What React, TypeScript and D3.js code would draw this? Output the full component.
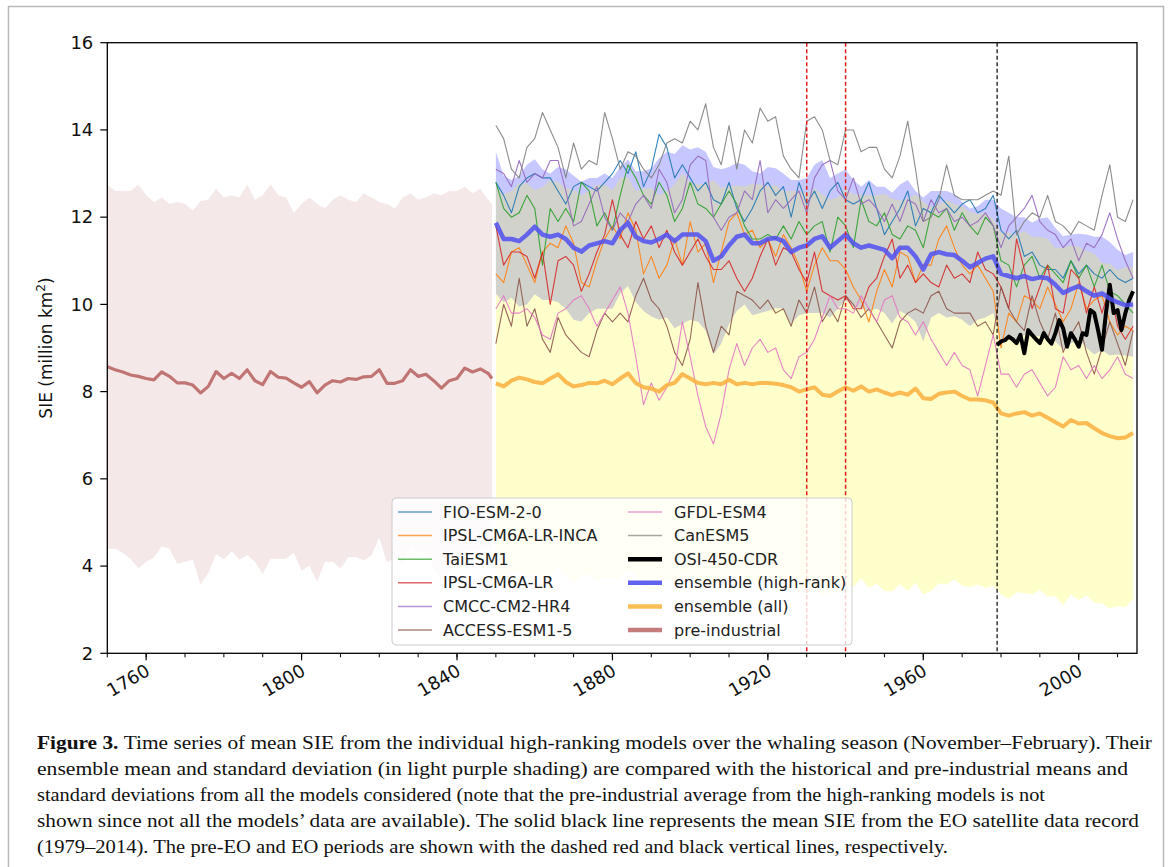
import React from 'react'
import * as d3 from 'd3'

// years
const preYears = [...d3.range(1750, 1849, 2), 1849]
const histYears = d3.range(1850, 2015, 2)
const osiYears = d3.range(1979, 2015)

// pre-industrial mean / std (all models)
const preMean = [
  8.57, 8.5, 8.45, 8.38, 8.35, 8.3, 8.27, 8.45, 8.35, 8.2,
  8.2, 8.15, 7.97, 8.12, 8.46, 8.3, 8.42, 8.3, 8.5, 8.25,
  8.16, 8.46, 8.33, 8.31, 8.2, 8.1, 8.23, 7.97, 8.15, 8.25,
  8.22, 8.3, 8.28, 8.34, 8.35, 8.5, 8.19, 8.19, 8.25, 8.5,
  8.35, 8.4, 8.25, 8.08, 8.25, 8.3, 8.54, 8.45, 8.52, 8.42,
  8.3,
]
const preStd = [
  4.18, 4.1, 4.15, 4.22, 4.4, 4.2, 4.08, 4.0, 3.95, 4.15,
  4.1, 4.0, 4.4, 4.28, 4.19, 4.15, 4.08, 4.15, 4.25, 4.15,
  4.34, 4.29, 4.17, 4.14, 3.9, 4.2, 4.22, 4.33, 4.05, 4.15,
  4.28, 4.1, 4.07, 4.21, 4.1, 3.85, 4.11, 4.01, 4.2, 4.05,
  4.05, 4.05, 4.3, 4.42, 4.35, 4.3, 4.16, 4.1, 4.13, 3.98,
  4.0,
]

// historical ensemble, all models
const allMean = [
  8.19, 8.12, 8.25, 8.32, 8.28, 8.22, 8.19, 8.3, 8.4, 8.22,
  8.12, 8.15, 8.2, 8.19, 8.25, 8.17, 8.3, 8.42, 8.2, 8.1,
  8.07, 8.0, 8.15, 8.2, 8.4, 8.3, 8.2, 8.17, 8.2, 8.17,
  8.27, 8.17, 8.2, 8.17, 8.2, 8.2, 8.18, 8.15, 8.1, 8.0,
  8.05, 8.1, 7.93, 7.9, 8.0, 8.1, 8.02, 8.12, 8.0, 8.05,
  7.98, 7.92, 7.98, 7.93, 8.07, 7.85, 7.83, 7.95, 7.98, 8.0,
  7.9, 7.82, 7.82, 7.8, 7.75, 7.5, 7.45, 7.5, 7.53, 7.45,
  7.5, 7.4, 7.3, 7.2, 7.35, 7.27, 7.28, 7.16, 7.05, 6.98,
  6.93, 6.95, 7.05,
]
const allStd = [
  4.5, 4.4, 4.35, 4.45, 4.5, 4.4, 4.5, 4.55, 4.4, 4.45,
  4.5, 4.35, 4.4, 4.55, 4.5, 4.45, 4.6, 4.5, 4.4, 4.55,
  4.6, 4.5, 4.45, 4.55, 4.6, 4.5, 4.55, 4.6, 4.65, 4.5,
  4.45, 4.55, 4.5, 4.6, 4.55, 4.5, 4.55, 4.45, 4.5, 4.6,
  4.5, 4.55, 4.6, 4.5, 4.45, 4.55, 4.5, 4.4, 4.5, 4.45,
  4.55, 4.5, 4.4, 4.5, 4.45, 4.5, 4.4, 4.35, 4.4, 4.3,
  4.35, 4.3, 4.25, 4.3, 4.2, 4.15, 4.2, 4.1, 4.15, 4.1,
  4.05, 4.1, 4.0, 4.1, 4.0, 4.05, 3.95, 4.0, 3.9, 3.95,
  3.85, 3.9, 3.8,
]

// historical ensemble, high-ranking models
const hrMean = [
  11.87, 11.5, 11.5, 11.45, 11.6, 11.78, 11.6, 11.55, 11.6, 11.5,
  11.3, 11.21, 11.35, 11.4, 11.45, 11.4, 11.7, 11.87, 11.55, 11.45,
  11.42, 11.5, 11.6, 11.45, 11.6, 11.6, 11.6, 11.45, 11.0, 11.1,
  11.35, 11.55, 11.6, 11.4, 11.4, 11.5, 11.52, 11.45, 11.2, 11.3,
  11.35, 11.5, 11.56, 11.3, 11.45, 11.6, 11.4, 11.3, 11.35, 11.3,
  11.25, 11.06, 11.3, 11.3, 11.1, 10.8, 11.15, 11.2, 11.15, 11.13,
  11.0, 10.85, 10.95, 11.05, 11.1, 10.7, 10.65, 10.6, 10.65, 10.58,
  10.62, 10.6, 10.45, 10.26, 10.35, 10.42, 10.3, 10.2, 10.25, 10.13,
  10.05, 9.98, 10.0,
]
const hrStd = [
  1.63, 1.45, 1.35, 1.5, 1.6, 1.55, 1.5, 1.45, 1.55, 1.6,
  1.65, 1.6, 1.55, 1.5, 1.55, 1.5, 1.45, 1.45, 1.5, 1.6,
  1.7, 1.85, 1.9, 2.0, 2.05, 1.95, 2.0, 2.05, 2.15, 2.0,
  1.8, 1.7, 1.6, 1.65, 1.6, 1.65, 1.6, 1.55, 1.65, 1.55,
  1.55, 1.7, 1.75, 1.6, 1.55, 1.5, 1.45, 1.4, 1.5, 1.4,
  1.45, 1.5, 1.45, 1.55, 1.5, 1.65, 1.45, 1.4, 1.45, 1.4,
  1.35, 1.35, 1.3, 1.35, 1.3, 1.5, 1.45, 1.4, 1.35, 1.3,
  1.35, 1.4, 1.3, 1.3, 1.25, 1.2, 1.3, 1.35, 1.3, 1.3,
  1.2, 1.15, 1.2,
]

// individual models
const fio = [
  12.8, 12.5, 12.1, 12.7, 12.9, 13.0, 12.9, 12.9, 12.6, 12.3,
  12.7, 12.8, 12.7, 12.6, 12.8, 13.0, 13.3, 13.0, 13.5, 12.7,
  13.1, 13.9, 13.6, 12.9, 13.2, 12.9, 12.6, 12.8, 12.4, 12.3,
  12.8, 12.2, 11.9, 12.2, 12.6, 12.8, 12.5, 12.7, 12.0, 12.8,
  12.3, 12.6, 12.2, 12.6, 12.8, 12.4, 12.3, 12.4, 12.8, 12.2,
  11.6, 11.9, 12.2, 12.6, 11.8, 12.2, 12.1, 12.5, 12.3, 12.1,
  12.3, 12.4, 12.1, 12.2, 12.5, 11.7, 11.5, 11.7, 11.1, 11.2,
  10.9, 10.8, 10.8, 10.6, 11.0, 10.7, 10.9, 10.7, 10.6, 10.8,
  10.6, 10.5, 10.6,
]
const inca = [
  10.7, 10.5, 11.2, 11.3, 10.9, 10.5, 11.2, 11.4, 11.3, 11.8,
  11.4, 10.5, 10.4, 11.0, 11.5, 11.8, 11.5, 12.1, 11.7, 10.7,
  11.1, 10.6, 10.9, 11.5, 10.9, 11.9, 11.2, 11.4, 10.5, 11.2,
  11.9, 12.1, 11.6, 11.7, 11.3, 11.5, 11.1, 11.6, 11.3, 10.9,
  10.3, 10.9, 11.3, 11.0, 11.0, 10.8, 10.4, 10.1, 9.6, 10.3,
  10.8, 10.4, 11.2, 11.1, 10.5, 10.9, 10.9, 11.5, 11.8, 11.3,
  10.9, 10.7, 10.9, 10.6, 10.3, 9.0, 9.8, 9.6, 10.2, 10.1,
  9.9, 10.4, 10.0, 9.6, 9.9, 10.5, 9.9, 10.1, 10.2, 9.6,
  9.3, 9.5, 9.4,
]
const taiesm = [
  12.8, 12.2, 12.0, 12.1, 12.5, 12.2, 10.9, 12.2, 11.9, 12.2,
  11.9, 12.8, 12.6, 11.8, 12.1, 11.7, 12.5, 13.2, 12.9, 12.5,
  12.3, 12.8, 12.5, 11.9, 12.2, 12.8, 12.3, 12.2, 12.0, 12.3,
  12.6, 12.3, 11.8, 11.5, 11.5, 11.6, 11.5, 11.8, 11.5, 11.9,
  11.6, 11.8, 11.9, 11.2, 12.0, 11.8, 11.3, 12.4, 11.9, 11.8,
  12.1, 11.6, 11.5, 11.8, 11.7, 11.3, 12.1, 12.0, 12.2, 11.7,
  12.1, 11.8, 11.6, 12.0, 11.8, 11.0, 10.9, 10.4, 10.9, 11.1,
  10.6, 10.9, 10.7, 10.5, 11.0, 10.6, 10.9, 10.4, 10.9, 10.3,
  10.2, 10.0, 9.8,
]
const ipsl = [
  11.8, 10.9, 11.2, 11.2, 11.1, 10.6, 11.2, 10.0, 11.0, 11.1,
  10.9, 10.3, 10.7, 11.2, 11.6, 12.4, 11.6, 11.3, 11.9, 11.5,
  11.8, 11.3, 11.7, 11.2, 10.9, 11.2, 11.5, 11.1, 10.8, 10.8,
  11.0, 10.6, 10.3, 10.6, 11.1, 11.5, 10.9, 11.3, 11.2, 10.8,
  10.5, 11.2, 10.3, 10.2, 10.1, 10.2, 9.9, 9.9, 10.4, 10.6,
  11.1, 11.5, 10.6, 10.9, 10.5, 10.7, 10.5, 10.4, 10.9, 10.6,
  10.7, 10.5, 11.2, 10.8, 10.7, 10.4, 9.9, 11.5, 10.8, 9.9,
  10.4, 10.9, 9.9, 9.8, 10.8, 10.6, 9.8, 10.4, 9.8, 10.4,
  9.5, 9.2, 9.5,
]
const cmcc = [
  13.1, 13.0, 12.7, 13.3, 12.8, 13.0, 12.9, 13.3, 13.3, 12.6,
  11.8, 11.9, 12.3, 12.7, 12.0, 11.7, 12.1, 11.9, 12.3, 12.5,
  12.2, 13.1, 12.8, 12.1, 12.4, 13.2, 13.4, 13.3, 12.0, 11.7,
  12.0, 12.1, 12.6, 12.4, 13.3, 12.1, 12.4, 12.2, 12.4, 12.6,
  12.1, 12.9, 13.2, 13.3, 12.6, 12.4, 12.9, 12.3, 12.4, 12.2,
  11.9, 12.3, 11.9, 12.4, 12.3, 11.9, 12.4, 12.1, 12.2, 11.9,
  12.0, 11.8, 11.9, 12.1, 11.8, 11.3, 11.8, 12.0, 12.2, 12.5,
  11.9, 11.7, 11.6, 11.3, 11.5, 11.0, 11.4, 11.3, 11.6, 12.1,
  11.5, 11.0, 10.6,
]
const access = [
  9.1, 10.0, 9.5, 10.6, 9.5, 9.9, 9.2, 8.9, 9.7, 9.3,
  9.1, 8.9, 8.8, 9.4, 9.8, 9.6, 9.8, 9.6, 10.2, 10.6,
  10.1, 9.9, 9.5, 8.9, 8.6, 9.2, 10.5, 9.5, 8.9, 9.5,
  9.3, 10.3, 10.2, 10.1, 9.9, 10.1, 9.8, 9.9, 9.5, 10.1,
  9.8, 10.4, 9.6, 9.9, 9.6, 10.2, 10.0, 9.7, 9.9, 9.6,
  9.3, 9.0, 9.6, 9.8, 9.9, 9.8, 10.2, 10.3, 9.9, 9.8,
  9.8, 9.8, 9.5, 9.6, 9.3, 10.4, 9.9, 9.6, 9.4, 10.2,
  9.6, 9.2, 9.8, 8.9, 9.3, 9.6, 8.9, 8.4, 9.0, 9.6,
  9.1, 8.6, 9.4,
]
const gfdl = [
  9.9, 10.2, 9.8, 9.8, 9.9, 9.7, 9.3, 9.2, 9.8, 9.9,
  10.1, 10.2, 9.9, 9.5, 9.8, 10.1, 10.4, 9.8, 8.8, 7.7,
  8.2, 7.8, 8.1, 8.5, 9.6, 8.8, 7.9, 7.2, 6.8, 7.5,
  8.5, 9.1, 8.6, 9.0, 9.2, 8.9, 9.0, 8.5, 8.3, 8.8,
  8.9, 9.2, 9.7, 10.2, 9.9, 9.9, 9.8, 10.2, 9.9, 9.6,
  10.1, 10.2, 9.7, 9.6, 9.3, 9.6, 9.2, 8.9, 8.6, 8.9,
  8.6, 8.5, 7.9, 8.6, 9.3, 8.4, 8.4, 8.1, 8.4, 8.5,
  8.2, 7.9, 8.1, 8.8, 8.5, 8.6, 8.3, 8.6, 8.3, 8.5,
  8.8, 8.4, 8.3,
]
const canesm = [
  14.1, 13.8, 13.1, 12.9, 13.6, 13.8, 14.4, 14.0, 13.6, 12.9,
  13.7, 13.1, 13.3, 13.2, 14.4, 13.8, 13.1, 13.5, 13.4, 13.1,
  12.9, 13.2, 13.7, 13.8, 13.7, 14.2, 14.0, 14.6, 13.6, 13.2,
  14.1, 13.1, 14.0, 13.7, 14.5, 14.2, 14.3, 13.4, 13.1, 12.9,
  14.2, 14.3, 14.0, 13.3, 13.2, 14.0, 14.0, 13.5, 13.6, 13.6,
  13.1, 12.9, 13.4, 14.2, 13.1, 11.9, 12.0, 12.4, 13.2, 12.5,
  12.4, 12.4, 12.4, 12.5, 12.6, 12.5, 13.4, 11.6, 11.9, 12.1,
  12.0, 12.5, 11.9, 11.8, 11.6, 11.9, 11.8, 11.7, 12.5, 13.2,
  12.0, 11.9, 12.4,
]

// satellite record
const osi = [
  9.07, 9.15, 9.18, 9.26, 9.2, 9.11, 9.3, 8.88, 9.41, 9.3,
  9.2, 9.11, 9.34, 9.2, 9.1, 9.34, 9.64, 9.45, 9.03, 9.34,
  9.2, 9.03, 9.34, 9.3, 9.87, 9.8, 9.4, 8.96, 9.8, 10.45,
  9.8, 9.87, 9.41, 9.8, 10.1, 10.3,
]

const models = [
  { name: 'FIO-ESM-2-0', color: '#1f77b4', values: fio },
  { name: 'IPSL-CM6A-LR-INCA', color: '#ff7f0e', values: inca },
  { name: 'TaiESM1', color: '#2ca02c', values: taiesm },
  { name: 'IPSL-CM6A-LR', color: '#d62728', values: ipsl },
  { name: 'CMCC-CM2-HR4', color: '#9467bd', values: cmcc },
  { name: 'ACCESS-ESM1-5', color: '#8c564b', values: access },
  { name: 'GFDL-ESM4', color: '#e377c2', values: gfdl },
  { name: 'CanESM5', color: '#7f7f7f', values: canesm },
]

const preEoLines = [1930, 1940]
const eoLine = 1979
const yTicks = [2, 4, 6, 8, 10, 12, 14, 16]
const xTicks = [1760, 1800, 1840, 1880, 1920, 1960, 2000]
const xMinor = d3.range(1750, 2015, 10)

const legendLeft = [
  { label: 'FIO-ESM-2-0', color: '#1f77b4', w: 1.5 },
  { label: 'IPSL-CM6A-LR-INCA', color: '#ff7f0e', w: 1.5 },
  { label: 'TaiESM1', color: '#2ca02c', w: 1.5 },
  { label: 'IPSL-CM6A-LR', color: '#d62728', w: 1.5 },
  { label: 'CMCC-CM2-HR4', color: '#9467bd', w: 1.5 },
  { label: 'ACCESS-ESM1-5', color: '#8c564b', w: 1.5 },
]
const legendRight = [
  { label: 'GFDL-ESM4', color: '#e377c2', w: 1.5 },
  { label: 'CanESM5', color: '#7f7f7f', w: 1.5 },
  { label: 'OSI-450-CDR', color: '#000000', w: 4.5 },
  { label: 'ensemble (high-rank)', color: '#6262f0', w: 4.5 },
  { label: 'ensemble (all)', color: '#fbbd55', w: 4.5 },
  { label: 'pre-industrial', color: '#c47c7c', w: 4.5 },
]

const caption = [
  'Time series of mean SIE from the individual high-ranking models over the whaling season (November\u2013February). Their',
  'ensemble mean and standard deviation (in light purple shading) are compared with the historical and pre-industrial means and',
  'standard deviations from all the models considered (note that the pre-industrial average from the high-ranking models is not',
  'shown since not all the models\u2019 data are available). The solid black line represents the mean SIE from the EO satellite data record',
  '(1979\u20132014). The pre-EO and EO periods are shown with the dashed red and black vertical lines, respectively.',
]
const captionWidths = [1115, 1091, 1008, 1102, 911]

export default function App() {
  const left = 107.3, right = 1137, top = 42.7, bottom = 653.3
  const x = d3.scaleLinear().domain([1750, 2015]).range([left, right])
  const y = d3.scaleLinear().domain([2, 16]).range([bottom, top])

  const line = (yrs: number[], vals: number[]) =>
    d3.line<number>().x((_, i) => x(yrs[i])).y(d => y(d))(vals) || ''
  const band = (yrs: number[], mean: number[], std: number[]) =>
    d3.area<number>()
      .x((_, i) => x(yrs[i]))
      .y0((d, i) => y(d - std[i]))
      .y1((d, i) => y(d + std[i]))(mean) || ''

  const font = 'DejaVu Sans, sans-serif'

  return (
    <svg width={1171} height={867} style={{ position: 'absolute', left: 0, top: 0, background: '#fff' }}>
      <rect x={8.5} y={6.5} width={1155} height={880} fill="#fff" stroke="#b8b8b8" strokeWidth={1.5} />
      <defs>
        <clipPath id="plot">
          <rect x={left} y={top} width={right - left} height={bottom - top} />
        </clipPath>
      </defs>
      <g clipPath="url(#plot)">
        <path d={band(preYears, preMean, preStd)} fill="#a52a2a" fillOpacity={0.11} />
        <path d={band(histYears, hrMean, hrStd)} fill="#0000ff" fillOpacity={0.22} />
        <path d={band(histYears, allMean, allStd)} fill="#ffff00" fillOpacity={0.2} />
        {models.map(m => (
          <path key={m.name} d={line(histYears, m.values)} fill="none" stroke={m.color}
            strokeWidth={1.1} strokeOpacity={0.9} strokeLinejoin="round" />
        ))}
        <path d={line(osiYears, osi)} fill="none" stroke="#000" strokeWidth={4} strokeLinejoin="round" />
        <path d={line(histYears, hrMean)} fill="none" stroke="#5050f0" strokeOpacity={0.85} strokeWidth={4.5} strokeLinejoin="round" />
        <path d={line(histYears, allMean)} fill="none" stroke="#fbb445" strokeOpacity={0.9} strokeWidth={4} strokeLinejoin="round" />
        <path d={line(preYears, preMean)} fill="none" stroke="#c07474" strokeWidth={3.2} strokeLinejoin="round" />
        {preEoLines.map(yr => (
          <line key={yr} x1={x(yr)} x2={x(yr)} y1={top} y2={bottom} stroke="#e41a1a" strokeWidth={1.5} strokeDasharray="4,2.5" />
        ))}
        <line x1={x(eoLine)} x2={x(eoLine)} y1={top} y2={bottom} stroke="#000" strokeWidth={1.2} strokeDasharray="4,2.5" />
      </g>

      <rect x={left} y={top} width={right - left} height={bottom - top} fill="none" stroke="#000" strokeWidth={1.3} />

      {yTicks.map(t => (
        <g key={t}>
          <line x1={left - 7} x2={left} y1={y(t)} y2={y(t)} stroke="#000" strokeWidth={1.2} />
          <text x={left - 14} y={y(t)} dy="0.35em" textAnchor="end" fontFamily={font} fontSize={18} fill="#111">{t}</text>
        </g>
      ))}
      {xMinor.map(t => (
        <line key={t} x1={x(t)} x2={x(t)} y1={bottom} y2={bottom + 4} stroke="#000" strokeWidth={1} />
      ))}
      {xTicks.map(t => (
        <g key={t}>
          <line x1={x(t)} x2={x(t)} y1={bottom} y2={bottom + 7} stroke="#000" strokeWidth={1.2} />
          <text transform={`translate(${x(t) + 5},${bottom + 21}) rotate(-30)`} textAnchor="end"
            fontFamily={font} fontSize={18} fill="#111">{t}</text>
        </g>
      ))}
      <text transform={`translate(52,${(top + bottom) / 2}) rotate(-90)`} textAnchor="middle"
        fontFamily={font} fontSize={17} fill="#111">
        SIE (million km<tspan dy={-7} fontSize={12}>2</tspan><tspan dy={7}>)</tspan>
      </text>

      <g>
        <rect x={392} y={498} width={460} height={147} rx={4} fill="#fff" fillOpacity={0.8} stroke="#cccccc" strokeWidth={1} />
        {legendLeft.map((d, i) => (
          <g key={d.label} transform={`translate(0,${512 + i * 23.6})`}>
            <line x1={398} x2={432} y1={0} y2={0} stroke={d.color} strokeWidth={d.w} strokeOpacity={0.7} />
            <text x={443} y={0} dy="0.35em" fontFamily={font} fontSize={16} fill="#222">{d.label}</text>
          </g>
        ))}
        {legendRight.map((d, i) => (
          <g key={d.label} transform={`translate(0,${512 + i * 23.6})`}>
            <line x1={628} x2={662} y1={0} y2={0} stroke={d.color} strokeWidth={d.w} strokeOpacity={d.w > 2 ? 1 : 0.7} />
            <text x={674} y={0} dy="0.35em" fontFamily={font} fontSize={16} fill="#222">{d.label}</text>
          </g>
        ))}
      </g>

      {caption.map((c, i) => (
        <text key={i} x={37} y={749 + i * 26} fontFamily="Liberation Serif, serif" fontSize={18.5} fill="#111"
          textLength={captionWidths[i]} lengthAdjust="spacingAndGlyphs">
          {i === 0 && <tspan fontWeight="bold">Figure 3. </tspan>}
          {c}
        </text>
      ))}
    </svg>
  )
}
